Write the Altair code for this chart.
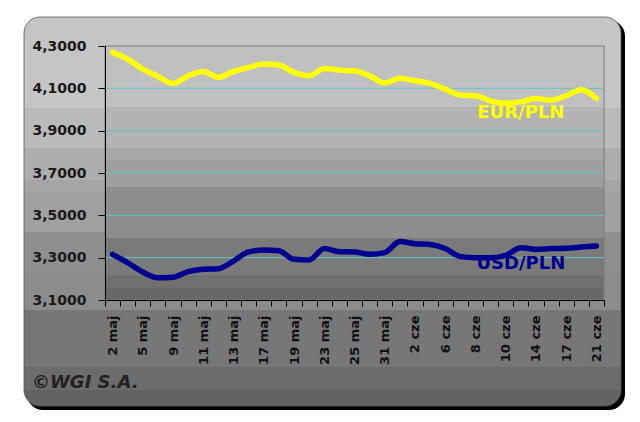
import altair as alt
import pandas as pd

# ---- data ----
dates = ["2 maj", "4 maj", "5 maj", "6 maj", "9 maj", "10 maj", "11 maj", "12 maj",
         "13 maj", "16 maj", "17 maj", "18 maj", "19 maj", "20 maj", "23 maj", "24 maj",
         "25 maj", "27 maj", "31 maj", "1 cze", "2 cze", "3 cze", "6 cze", "7 cze",
         "8 cze", "9 cze", "10 cze", "13 cze", "14 cze", "15 cze", "17 cze", "20 cze",
         "21 cze"]
labeled_dates = ["2 maj", "5 maj", "9 maj", "11 maj", "13 maj", "17 maj", "19 maj",
                 "23 maj", "25 maj", "31 maj", "2 cze", "6 cze", "8 cze", "10 cze",
                 "14 cze", "17 cze", "21 cze"]
eur_pln = [4.270, 4.238, 4.191, 4.156, 4.123, 4.159, 4.180, 4.152, 4.180, 4.199,
           4.215, 4.210, 4.175, 4.159, 4.194, 4.186, 4.183, 4.159, 4.125, 4.148,
           4.136, 4.123, 4.096, 4.068, 4.065, 4.041, 4.030, 4.036, 4.052, 4.044,
           4.065, 4.093, 4.052]
usd_pln = [3.316, 3.276, 3.232, 3.205, 3.208, 3.234, 3.245, 3.248, 3.284, 3.327,
           3.336, 3.333, 3.292, 3.289, 3.343, 3.328, 3.327, 3.316, 3.324, 3.376,
           3.366, 3.362, 3.343, 3.305, 3.300, 3.300, 3.311, 3.347, 3.339, 3.343,
           3.345, 3.350, 3.355]
series_names = ["EUR/PLN", "USD/PLN"]
y_ticks = [3.1, 3.3, 3.5, 3.7, 3.9, 4.1, 4.3]
grid_values = [3.3, 3.5, 3.7, 3.9, 4.1]
annotations = pd.DataFrame({
    "text": ["EUR/PLN", "USD/PLN"],
    "date": ["13 cze", "13 cze"],
    "value": [3.985, 3.272],
})

# ---- styles ----
W, H = 499, 254
FONT = "DejaVu Sans"
colors = ["#ffff00", "#000090"]

df = pd.DataFrame({
    "date": dates * 2,
    "value": eur_pln + usd_pln,
    "series": ["EUR/PLN"] * len(dates) + ["USD/PLN"] * len(dates),
})

x_scale = alt.Scale(type="band", domain=dates, paddingInner=0, paddingOuter=0)
y_scale = alt.Scale(domain=[3.1, 4.3], zero=False, nice=False)


def stepped(bands, top, bottom):
    stops = []
    h = bottom - top
    for (y0, y1, c) in bands:
        stops.append(alt.GradientStop(offset=max(0, (y0 - top) / h), color=c))
        stops.append(alt.GradientStop(offset=min(1, (y1 - top) / h), color=c))
    return alt.LinearGradient(gradient="linear", stops=stops, x1=0, x2=0, y1=0, y2=1)


outer_bands = [(17, 108, "#c5c5c5"), (108, 148, "#bababa"), (148, 180, "#adadad"),
               (180, 192, "#a5a5a5"), (192, 232, "#a0a0a0"), (232, 273, "#8f8f8f"),
               (273, 310, "#8c8c8c"), (310, 367, "#777777"), (367, 390, "#6c6c6c"),
               (390, 406, "#636363")]
plot_bands = [(46, 107, "#c0c0c0"), (107, 148, "#b3b3b3"), (148, 160, "#a7a7a7"),
              (160, 187, "#9f9f9f"), (187, 238, "#8d8d8d"), (238, 275, "#7a7a7a"),
              (275, 288, "#707070"), (288, 300, "#686868")]

base_dummy = pd.DataFrame({"k": [0]})

shadow = alt.Chart(base_dummy).mark_rect(color="#000000", cornerRadius=16).encode(
    x=alt.value(-78), x2=alt.value(520), y=alt.value(-26), y2=alt.value(364))
outer = alt.Chart(base_dummy).mark_rect(
    color=stepped(outer_bands, 17, 406), cornerRadius=16,
    stroke="#555555", strokeWidth=0.8).encode(
    x=alt.value(-81), x2=alt.value(516), y=alt.value(-29), y2=alt.value(360))
plot_bg = alt.Chart(base_dummy).mark_rect(
    color=stepped(plot_bands, 46, 300), stroke="#7a7a7a", strokeWidth=1).encode(
    x=alt.value(0), x2=alt.value(W), y=alt.value(0), y2=alt.value(H))

grid = alt.Chart(pd.DataFrame({"g": grid_values})).mark_rule(
    color="#5fc4c4", strokeWidth=1).encode(
    y=alt.Y("g:Q", scale=y_scale))

lines = alt.Chart(df).mark_line(
    strokeWidth=5.5, interpolate="monotone", strokeCap="round", strokeJoin="round").encode(
    x=alt.X("date:N", scale=x_scale, sort=dates,
            axis=alt.Axis(title=None, tickBand="extent", labelAngle=-90,
                          labelFont=FONT, labelFontWeight="bold", labelFontSize=13,
                          labelColor="#111111", labelPadding=9, tickSize=6,
                          tickColor="#000000", domainColor="#000000", domainWidth=1,
                          labelOverlap=False, grid=False, zindex=1,
                          labelExpr="indexof(" + str(labeled_dates).replace("'", '"')
                                    + ", datum.value) >= 0 ? datum.label : ''")),
    y=alt.Y("value:Q", scale=y_scale,
            axis=alt.Axis(title=None, values=y_ticks, grid=False, zindex=1,
                          labelFont=FONT, labelFontWeight="bold", labelFontSize=14,
                          labelColor="#1a1a1a", labelPadding=12, tickSize=7,
                          tickColor="#000000", domainColor="#000000",
                          labelExpr="replace(format(datum.value, '.4f'), '.', ',')")),
    color=alt.Color("series:N", scale=alt.Scale(domain=series_names, range=colors),
                    legend=None),
)

labels = alt.Chart(annotations).mark_text(
    font=FONT, fontWeight="bold", fontSize=18, align="center", baseline="middle").encode(
    x=alt.X("date:N", scale=x_scale, sort=dates),
    y=alt.Y("value:Q", scale=y_scale),
    text="text:N",
    color=alt.Color("text:N", scale=alt.Scale(domain=series_names, range=colors),
                    legend=None),
)

copyright_txt = alt.Chart(base_dummy).mark_text(
    text="©WGI S.A.", font=FONT, fontWeight="bold", fontStyle="italic", fontSize=18,
    align="left", baseline="middle", color="#222222").encode(
    x=alt.value(-73), y=alt.value(337))

chart = alt.layer(shadow, outer, plot_bg, grid, lines, labels, copyright_txt).properties(
    width=W, height=H,
    autosize=alt.AutoSizeParams(type="none"),
    padding={"left": 105, "top": 46, "right": 36, "bottom": 122},
    background="#ffffff",
).configure_view(stroke=None)

chart.save("out.html", embed_options={"renderer": "svg", "actions": False})
